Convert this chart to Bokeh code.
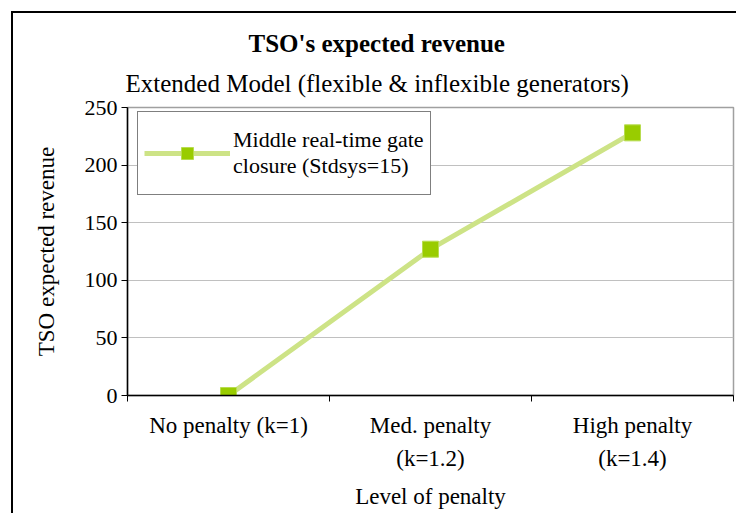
from bokeh.plotting import figure
from bokeh.models import (FactorRange, Range1d, LinearAxis, CategoricalAxis, FixedTicker,
                          Title, Legend, LegendItem, ColumnDataSource)
from bokeh.embed import file_html
from bokeh.resources import INLINE

categories = ["No penalty (k=1)", "Med. penalty\n(k=1.2)", "High penalty\n(k=1.4)"]
revenue = [0, 127, 228]
series_name = "Middle real-time gate\nclosure (Stdsys=15)"
y_ticks = [0, 50, 100, 150, 200, 250]
title_1 = "TSO's expected revenue"
title_2 = "Extended Model (flexible & inflexible generators)"

FONT = "Liberation Serif"
W, H = 736, 513
FL, FR, FT, FB = 127, 733, 107, 395   # frame edges in page pixels

src = ColumnDataSource(data=dict(cat=categories, rev=revenue))

p = figure(width=W, height=H, output_backend="svg", toolbar_location=None, title=None,
           x_range=FactorRange(*categories), y_range=Range1d(0, 250),
           x_axis_location=None, y_axis_location=None,
           min_border_left=FL, min_border_right=W - FR, min_border_top=FT, min_border_bottom=H - FB)
p.background_fill_color = "white"
p.border_fill_color = "white"
p.border_fill_alpha = 0
p.outline_line_color = "#a0a0a0"
p.outline_line_width = 1.5
# outer chart frame (left and top edges visible in the reference), drawn behind the transparent border
p.styles = {
    "background": "linear-gradient(#000, #000) 11px 11px / 2px 100% no-repeat, "
                  "linear-gradient(#000, #000) 11px 11px / 100% 2px no-repeat, #fff",
}

# titles: the first one added sits closest to the frame
t2 = Title(text=title_2, text_font=FONT, text_font_size="25px", text_font_style="normal",
           text_color="black", align="left", offset=-2, standoff=22)
t1 = Title(text=title_1, text_font=FONT, text_font_size="25px", text_font_style="bold",
           text_color="black", align="left", offset=121, standoff=0)
p.add_layout(t2, "above")
p.add_layout(t1, "above")

# boundary ticks between categories (closest to frame)
bounds = list(range(len(categories) + 1))
bx = LinearAxis(ticker=FixedTicker(ticks=bounds))
bx.major_label_overrides = {i: "" for i in bounds}
bx.major_label_standoff = 0
bx.major_label_text_font_size = "1px"
bx.major_tick_out = 6
bx.major_tick_in = 0
bx.minor_tick_out = 0
bx.minor_tick_in = 0
bx.axis_line_color = "black"
bx.axis_line_width = 1.5
bx.major_tick_line_color = "black"
p.add_layout(bx, "below")

cx = CategoricalAxis()
cx.axis_line_color = None
cx.major_tick_line_color = None
cx.major_tick_out = 0
cx.major_tick_in = 0
cx.major_label_standoff = 11
cx.major_label_text_font = FONT
cx.major_label_text_font_size = "23px"
cx.major_label_text_color = "black"
cx.major_label_text_line_height = 1.35
cx.axis_label = "Level of penalty"
cx.axis_label_text_font = FONT
cx.axis_label_text_font_size = "23px"
cx.axis_label_text_font_style = "normal"
cx.axis_label_text_color = "black"
cx.axis_label_standoff = 10
p.add_layout(cx, "below")

ya = LinearAxis(ticker=FixedTicker(ticks=y_ticks))
ya.axis_line_color = "black"
ya.axis_line_width = 1.5
ya.major_tick_out = 6
ya.major_tick_in = 0
ya.minor_tick_out = 0
ya.minor_tick_in = 0
ya.major_tick_line_color = "black"
ya.major_label_text_font = FONT
ya.major_label_text_font_size = "22px"
ya.major_label_text_color = "black"
ya.major_label_standoff = 4
ya.axis_label = "TSO expected revenue"
ya.axis_label_text_font = FONT
ya.axis_label_text_font_size = "23px"
ya.axis_label_text_font_style = "normal"
ya.axis_label_text_color = "black"
ya.axis_label_standoff = 23
p.add_layout(ya, "left")

for g in p.grid:
    if g.dimension == 1:
        g.ticker = FixedTicker(ticks=y_ticks)
        g.grid_line_color = "#c0c0c0"
        g.grid_line_width = 1
    else:
        g.grid_line_color = None

ln = p.line("cat", "rev", source=src, line_color="#cde386", line_width=5)
mk = p.scatter("cat", "rev", source=src, marker="square", size=16,
               fill_color="#99cc00", line_color="#b8dc50", line_width=1)

legend = Legend(items=[LegendItem(label=series_name, renderers=[ln, mk])],
                location=(10, 200))
legend.label_text_font = FONT
legend.label_text_font_size = "22px"
legend.label_text_color = "black"
legend.label_text_line_height = 1.1
legend.label_height = 70
legend.glyph_width = 86
legend.glyph_height = 30
legend.label_standoff = 3
legend.padding = 6
legend.margin = 0
legend.border_line_color = "black"
legend.border_line_width = 1.5
legend.background_fill_alpha = 1
p.add_layout(legend)

open("out.html", "w").write(file_html(p, INLINE))
